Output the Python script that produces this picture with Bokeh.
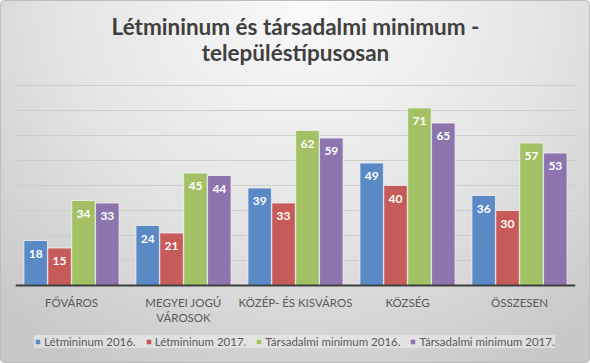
from bokeh.plotting import figure
from bokeh.models import FactorRange, Range1d, ColumnDataSource, Legend, LegendItem, FixedTicker, Label
from bokeh.transform import dodge
from bokeh.core.properties import value
from bokeh.embed import file_html
from bokeh.resources import INLINE

categories = ["FŐVÁROS", "MEGYEI JOGÚ\nVÁROSOK", "KÖZÉP- ÉS KISVÁROS", "KÖZSÉG", "ÖSSZESEN"]
series_names = ["Létmininum 2016.", "Létmininum 2017.", "Társadalmi minimum 2016.", "Társadalmi minimum 2017."]
letminimum_2016 = [18, 24, 39, 49, 36]
letminimum_2017 = [15, 21, 33, 40, 30]
tarsadalmi_2016 = [34, 45, 62, 71, 57]
tarsadalmi_2017 = [33, 44, 59, 65, 53]
grid_values = [10, 20, 30, 40, 50, 60, 70, 80]
title_lines = ["Létmininum és társadalmi minimum -", "településtípusosan"]

colors = ["#5A8AC6", "#C65B59", "#A2C164", "#8D74AE"]
offsets = [-0.32, -0.1067, 0.1067, 0.32]
keys = ["l16", "l17", "t16", "t17"]
series = [letminimum_2016, letminimum_2017, tarsadalmi_2016, tarsadalmi_2017]

data = {"cat": categories}
for k, s in zip(keys, series):
    data[k] = s
    data[k + "_txt"] = [str(v) for v in s]
source = ColumnDataSource(data)

FONT = "Lato"

# frame spans the whole figure height; value axis 0..80 occupies 200 px in the middle
p = figure(x_range=FactorRange(*categories, range_padding=0), y_range=Range1d(-31.2, 114),
           width=590, height=363, output_backend="svg", toolbar_location=None,
           min_border_left=15, min_border_right=15, min_border_top=0, min_border_bottom=0)
p.background_fill_alpha = 0
p.border_fill_alpha = 0
p.outline_line_color = None
p.styles = {
    "background": "radial-gradient(ellipse 75% 115% at 52% 0%, #fafafa 0%, #e4e4e4 55%, #c8c8c8 100%)",
    "border-radius": "5px",
    "box-shadow": "inset 0 0 0 1px #bdbdbd",
}

renderers = []
for k, off, c in zip(keys, offsets, colors):
    r = p.vbar(x=dodge("cat", off, range=p.x_range), top=k, width=0.21, source=source,
               fill_color=c, line_color="#f2f2f2", line_width=1, line_alpha=0.8)
    renderers.append(r)
    p.text(x=dodge("cat", off, range=p.x_range), y=k, text=k + "_txt", source=source,
           text_color="white", text_font=value(FONT), text_font_style="bold",
           text_font_size="12px", text_align="center", text_baseline="middle", y_offset=13)

p.yaxis.visible = False
p.ygrid.ticker = FixedTicker(ticks=grid_values)
p.ygrid.grid_line_color = "#cdcdcd"
p.ygrid.grid_line_width = 1
p.xgrid.visible = False

xa = p.xaxis[0]
xa.fixed_location = 0
xa.axis_line_color = "#3f3f3f"
xa.axis_line_width = 2
xa.major_tick_line_color = None
xa.minor_tick_line_color = None
xa.major_label_text_font = FONT
xa.major_label_text_font_size = "11.5px"
xa.major_label_text_color = "#595959"
xa.major_label_standoff = 4

for txt, yy in zip(title_lines, [337, 311]):
    p.add_layout(Label(x=280, y=yy, x_units="screen", y_units="screen", text=txt,
                       text_align="center", text_baseline="alphabetic",
                       text_font=FONT, text_font_style="bold", text_font_size="22.5px",
                       text_color="#404040"))

legend = Legend(items=[LegendItem(label=n, renderers=[r]) for n, r in zip(series_names, renderers)],
                orientation="horizontal", location=(19, 15),
                glyph_width=7, glyph_height=7, label_standoff=3, spacing=9,
                padding=6, margin=0, label_height=9,
                label_text_font=FONT, label_text_font_size="11.5px", label_text_color="#595959",
                background_fill_color="#ececec", background_fill_alpha=0.6,
                border_line_color=None)
p.add_layout(legend, "center")

open("out.html", "w").write(file_html(p, INLINE))
